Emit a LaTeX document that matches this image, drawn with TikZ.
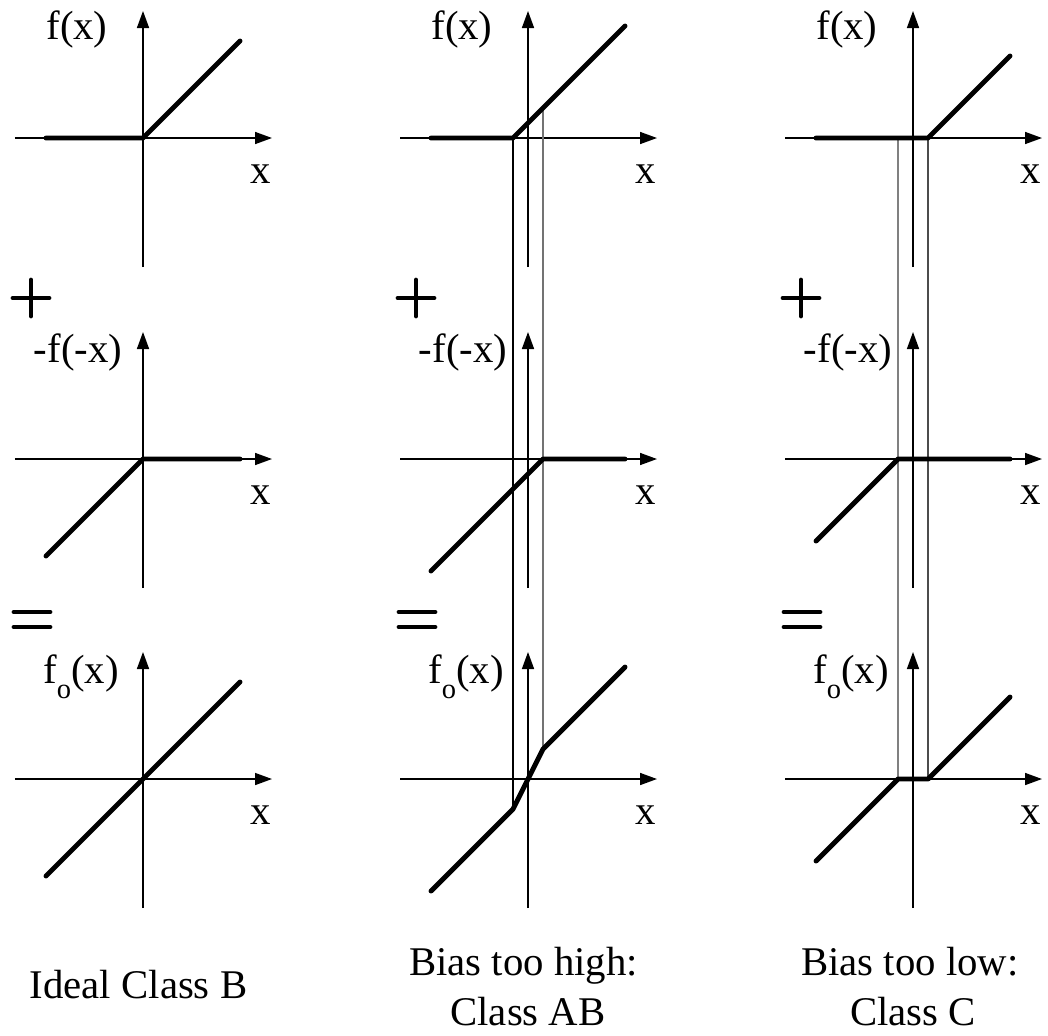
\documentclass[tikz,border=0pt]{standalone}
\usepackage{fontspec}
\setmainfont{Liberation Serif}
\usepackage{tikz}
\usetikzlibrary{arrows.meta}

\begin{document}
\begin{tikzpicture}[
    axis/.style={-{Triangle[length=1.7mm,width=1.2mm]}, line width=0.45pt},
    curve/.style={line width=1.4pt, line cap=round, line join=round},
    guide/.style={line width=0.35pt},
    sign/.style={line width=1.35pt, line cap=round},
    lbl/.style={font=\fontsize{11.6}{14}\selectfont, inner sep=0pt, anchor=base}
]
    \useasboundingbox (0,0) rectangle (10.48,10.35);

    % Axes and signs for each column
    \foreach \cx/\c in {1.43/a, 5.28/b, 9.13/c} {
        \foreach \ry/\r in {8.97/1, 5.76/2, 2.56/3} {
            \draw[axis] (\cx-1.28,\ry) -- (\cx+1.29,\ry);
            \draw[axis] (\cx,\ry-1.29) -- (\cx,\ry+1.27);
            \node[lbl] (x\c\r) at (\cx+1.18,\ry-0.45) {x};
        }
        \node[lbl] (f\c) at (\cx-0.66,9.96) {f(x)};
        \node[lbl] (g\c) at (\cx-0.65,6.73) {-f(-x)};
        \node[lbl] (fo\c) at (\cx-0.62,3.52) {f\raisebox{-0.37em}{\fontsize{8.1}{8}\selectfont o}(x)};
        % plus and equals
        \draw[sign] (\cx-1.30,7.37) -- (\cx-0.94,7.37) (\cx-1.12,7.19) -- (\cx-1.12,7.55);
        \draw[sign] (\cx-1.29,4.23) -- (\cx-0.93,4.23) (\cx-1.29,4.08) -- (\cx-0.93,4.08);
    }

    % Ideal class B
    \draw[curve] (0.46,8.97) -- (1.43,8.97) -- (2.40,9.94);
    \draw[curve] (0.46,4.79) -- (1.43,5.76) -- (2.40,5.76);
    \draw[curve] (0.46,1.59) -- (2.40,3.53);

    % Bias too high
    \draw[guide] (5.13,8.97) -- (5.13,2.26);
    \draw[guide, black!55] (5.43,9.27) -- (5.43,2.86);
    \draw[curve] (4.31,8.97) -- (5.13,8.97) -- (6.25,10.09);
    \draw[curve] (4.31,4.64) -- (5.43,5.76) -- (6.25,5.76);
    \draw[curve] (4.31,1.44) -- (5.13,2.26) -- (5.43,2.86) -- (6.25,3.68);

    % Bias too low
    \draw[guide, black!50] (8.98,8.97) -- (8.98,2.56);
    \draw[guide, black!70] (9.28,8.97) -- (9.28,2.56);
    \draw[curve] (8.16,8.97) -- (9.28,8.97) -- (10.10,9.79);
    \draw[curve] (8.16,4.94) -- (8.98,5.76) -- (10.10,5.76);
    \draw[curve] (8.16,1.74) -- (8.98,2.56) -- (9.28,2.56) -- (10.10,3.38);

    % Captions
    \node[lbl] (capa) at (1.385,0.37) {Ideal Class B};
    \node[lbl] (capb) at (5.235,0.60) {Bias too high:};
    \node[lbl] (capb2) at (5.28,0.10) {Class AB};
    \node[lbl] (capc) at (9.10,0.60) {Bias too low:};
    \node[lbl] (capc2) at (9.13,0.10) {Class C};
\end{tikzpicture}
\end{document}
